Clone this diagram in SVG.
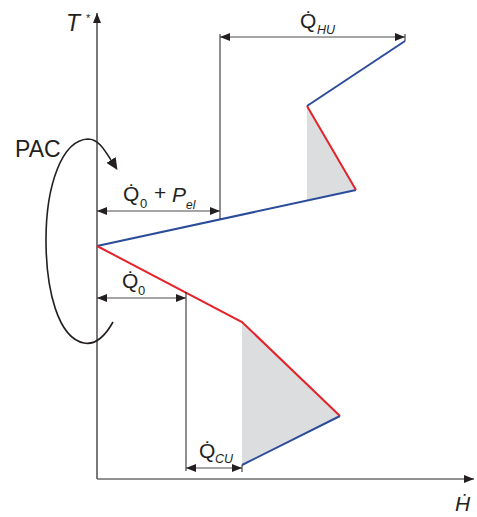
<svg xmlns="http://www.w3.org/2000/svg" width="477" height="517" viewBox="0 0 477 517">
<style>
text{font-family:"Liberation Sans",Arial,sans-serif;fill:#231f20}
.big{font-size:21px}
.sub{font-size:13px}
.it{font-style:italic}
.blue{stroke:#2b4c9b;stroke-width:2;fill:none}
.red{stroke:#e62229;stroke-width:2;fill:none}
.shade{fill:#dcdddf;stroke:none}
.ext{stroke:#231f20;stroke-width:1;fill:none}
.dim{stroke:#4d4d4d;stroke-width:1.2;fill:none;marker-start:url(#ah);marker-end:url(#ah)}
</style>
<defs>
<marker id="ah" viewBox="0 0 10 8" refX="10" refY="4" markerWidth="10" markerHeight="8" orient="auto-start-reverse" markerUnits="userSpaceOnUse"><path d="M0,0 L10,4 L0,8 z" fill="#231f20"/></marker>
<marker id="big" viewBox="0 0 12 11" refX="0" refY="5.5" markerWidth="12" markerHeight="11" orient="auto" markerUnits="userSpaceOnUse"><path d="M0,0 L12,5.5 L0,11 z" fill="#231f20"/></marker>
</defs>
<g id="shading">
<polygon class="shade" points="307,106 356,190 307,200.5"/>
<polygon class="shade" points="242,322 340,416 242,465"/>
</g>
<g id="axes">
<line x1="97" y1="479" x2="97" y2="13" stroke="#231f20" stroke-width="1.2" marker-end="url(#ah)"/>
<line x1="97" y1="479" x2="474" y2="479" stroke="#6d6d6d" stroke-width="1.3" marker-end="url(#ah)"/>
<text class="it" x="66" y="31" font-size="23">T</text>
<text x="86" y="22" font-size="11">*</text>
<text class="it" x="455" y="511" font-size="21">Ḣ</text>
</g>
<g id="curves">
<polyline class="blue" points="97,246 356,190"/>
<polyline class="red" points="356,190 307,106"/>
<polyline class="blue" points="307,106 405,41"/>
<polyline class="red" points="97,246 242,322 340,416"/>
<polyline class="blue" points="340,416 242,465"/>
</g>
<g id="connectors">
<line class="ext" x1="220" y1="34" x2="220" y2="219"/>
<line class="ext" x1="405" y1="34" x2="405" y2="41"/>
<line class="ext" x1="186" y1="292" x2="186" y2="471"/>
<line class="ext" x1="242" y1="465" x2="242" y2="472"/>
<line class="dim" x1="220" y1="37" x2="405" y2="37"/>
<line class="dim" x1="97" y1="211" x2="220" y2="211"/>
<line class="dim" x1="97" y1="298" x2="186" y2="298"/>
<line class="dim" x1="186" y1="468" x2="242" y2="468"/>
<path d="M113,322 C104,338 94,345 84,343 C58,338 46,290 46,240 C46,185 62,140 88,139 C98,139 104,149 111,160" fill="none" stroke="#231f20" stroke-width="1.6" marker-end="url(#big)"/>
</g>
<g id="labels">
<text class="big" x="300" y="28">Q̇</text>
<text class="it" x="317" y="34" font-size="12.5">HU</text>
<text class="big" x="123" y="201">Q̇</text>
<text class="sub" x="140" y="208">0</text>
<text class="big" x="154" y="200">+</text>
<text class="big it" x="172" y="202">P</text>
<text class="it" x="186" y="209" font-size="12">el</text>
<text class="big" x="122" y="288">Q̇</text>
<text class="sub" x="138" y="295">0</text>
<text class="big" x="199" y="458">Q̇</text>
<text class="it" x="215" y="463" font-size="12.5">CU</text>
<text x="15" y="157" font-size="23">PAC</text>
</g>
</svg>
